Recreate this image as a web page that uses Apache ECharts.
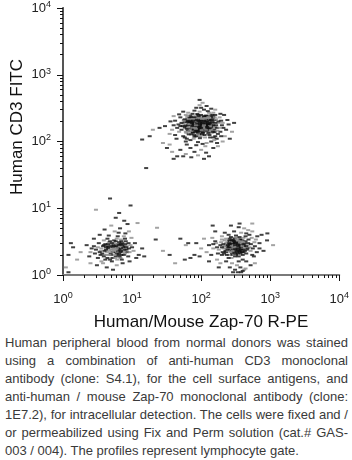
<!DOCTYPE html>
<html>
<head>
<meta charset="utf-8">
<script src="https://cdn.jsdelivr.net/npm/echarts@6/dist/echarts.min.js"></script>
<style>
    body { margin: 0; background: #fff; }
    #main { position: absolute; left: 0; top: 0; width: 352px; height: 330px; }
    .caption {
        position: absolute; left: 5px; top: 334px; width: 343px;
        font-family: "Liberation Sans", Arial, sans-serif; font-size: 13px;
        line-height: 18px; color: #3a3a3a;
    }
    .caption div { text-align: justify; text-align-last: justify; white-space: nowrap; }
    .caption div.last { text-align-last: left; }
</style>
</head>
<body>
<div id="main"></div>
<div class="caption">
    <div>Human peripheral blood from normal donors was stained</div>
    <div>using a combination of anti-human CD3 monoclonal</div>
    <div>antibody (clone: S4.1), for the cell surface antigens, and</div>
    <div>anti-human / mouse Zap-70 monoclonal antibody (clone:</div>
    <div>1E7.2), for intracellular detection. The cells were fixed and /</div>
    <div>or permeabilized using Fix and Perm solution (cat.# GAS-</div>
    <div class="last">003 / 004). The profiles represent lymphocyte gate.</div>
</div>
<script>
// decades shown on both log axes
const decades = [0, 1, 2, 3, 4];

// CD3+ T cells: [Zap-70 R-PE, CD3 FITC]
const cd3Pos = [
    [92,170],[78,185],[110,160],[65,150],[130,200],[88,140],[101,230],[72,210],[140,175],[95,120],
    [83,165],[118,190],[60,180],[105,145],[90,250],[125,130],[70,160],[99,195],[150,160],[80,125],
    [112,215],[86,178],[67,205],[134,152],[97,168],[75,138],[121,240],[93,188],[58,162],[108,172],
    [145,205],[82,196],[103,128],[69,175],[116,158],[91,222],[77,148],[128,182],[99,155],[63,225],
    [87,162],[106,198],[74,170],[138,165],[94,143],[81,212],[119,176],[66,190],[102,182],[89,132],
    [124,158],[76,194],[110,235],[96,150],[71,142],[133,218],[85,172],[115,140],[62,168],[100,208],
    [92,180],[79,158],[127,170],[104,160],[68,198],[142,188],[88,226],[113,150],[73,178],[98,136],
    [84,204],[120,196],[95,174],[64,145],[109,186],[131,142],[78,166],[93,158],[117,225],[86,190],
    [103,170],[70,220],[136,158],[97,202],[80,150],[112,178],[90,165],[123,210],[75,185],[106,134],
    [88,195],[146,172],[99,180],[67,160],[114,164],[83,140],[128,192],[94,216],[72,154],[107,205],
    [91,148],[119,168],[79,200],[100,190],[65,175],[139,200],[86,158],[108,150],[96,238],[74,166],
    [122,180],[89,175],[104,212],[70,188],[131,165],[93,130],[81,178],[115,202],[98,162],[63,198],
    [110,190],[85,150],[126,150],[94,196],[77,228],[102,156],[143,180],[87,168],[118,214],[69,150],
    [97,186],[82,172],[112,162],[91,205],[135,190],[75,160],[105,178],[90,140],[124,225],[79,192],
    [100,168],[66,212],[116,185],[95,160],[84,186],[129,176],[73,196],[108,220],[92,152],[120,154],
    [87,214],[101,176],[76,176],[137,148],[96,192],[111,170],[82,160],[71,232],[104,194],[89,184],
    [125,168],[98,208],[68,182],[114,176],[93,168],[80,218],[133,206],[86,144],[107,166],[95,182],
    [58,195],[150,195],[54,170],[155,150],[61,135],[148,225],[57,210],[142,135],[66,128],[138,240],
    [60,140],[72,128],[85,120],[98,118],[112,125],[128,135],[140,150],[150,175],[145,195],[132,225],
    [118,245],[100,250],[82,240],[68,230],[58,215],[55,185],[62,155],[76,135],[90,128],[105,138],
    [120,145],[135,170],[125,188],[110,205],[95,225],[80,230],[70,200],[65,165],[78,150],[92,145],
    [108,158],[122,165],[116,198],[102,218],[86,210],[74,188],[84,175],[96,165],[106,185],[118,150],
    [130,158],[140,210],[126,232],[112,240],[92,240],[76,218],[64,205],[59,172],[66,140],[80,118],
    [96,112],[114,115],[132,125],[148,140],[160,165],[156,210],[150,235],[136,255],[88,258],[70,245],
    [102,148],[94,202],[88,186],[110,175],[120,200],[100,160],[84,155],[76,205],[130,185],[114,220],
    [45,160],[52,190],[48,140],[40,175],[170,160],[180,190],[190,140],[200,175],[165,215],[175,130],
    [55,120],[60,250],[160,250],[50,230],[185,230],[42,205],[210,160],[38,150],[195,205],[168,110],
    [95,280],[80,290],[110,300],[120,95],[90,98],[70,105],[130,270],[100,320],[85,88],[115,85],
    [140,100],[60,100],[150,270],[75,260],[125,285],[65,270],[105,92],[135,115],[78,110],[160,120],
    [30,170],[35,130],[230,150],[250,180],[220,120],[44,110],[240,210],[205,100],[215,250],[48,255],
    [95,350],[120,340],[80,70],[100,75],[130,60],[70,80],[60,65],[110,55],[150,80],[175,85],
    [140,310],[85,320],[90,62],[72,58],[118,68],[160,300],[190,260],[55,280],[40,240],[36,200],
    [25,160],[20,150],[18,120],[300,190],[280,140],[260,110],[95,420],[105,380],[62,90],[170,95],
    [185,160],[178,200],[165,175],[172,145],[52,150],[47,180],[56,205],[42,125],[195,120],[205,190],
    [156,138],[161,190],[158,230],[152,115],[58,115],[63,240],[62,110],[145,250],[155,105],[50,170],
    [32,80],[38,70],[45,60],[40,55],[35,90],[14,107],[16,40],[28,95],[50,75],[55,60]
];

// CD3- / Zap-70 low cells
const cd3NegLow = [
    [5.2,2.4],[4.1,2.9],[6.5,2.1],[3.5,2.3],[7.8,2.7],[5.8,1.9],[4.6,3.1],[8.5,2.2],[3.2,1.8],[6.1,2.6],
    [5.0,2.0],[7.2,3.0],[4.3,2.2],[9.0,2.5],[3.8,2.7],[6.8,1.8],[5.5,3.3],[2.9,2.1],[7.5,2.3],[4.8,1.7],
    [6.3,2.9],[3.6,1.6],[8.1,3.2],[5.3,2.6],[4.0,2.0],[7.0,2.0],[2.6,2.5],[6.0,3.5],[4.5,2.5],[8.8,1.9],
    [5.7,2.2],[3.3,3.0],[7.4,2.6],[4.9,2.8],[6.6,2.4],[3.9,1.9],[9.5,2.8],[5.1,1.6],[4.2,2.6],[7.9,2.1],
    [5.9,2.7],[3.0,2.4],[6.9,3.4],[4.4,1.8],[8.3,2.4],[5.4,3.0],[3.7,2.1],[7.1,1.7],[4.7,2.3],[6.2,2.0],
    [2.4,1.9],[10.5,2.3],[2.2,2.8],[11.0,3.0],[1.8,2.2],[12.5,2.0],[2.8,3.5],[9.8,3.6],[3.4,4.0],[8.0,4.2],
    [5.6,4.5],[6.7,5.0],[4.0,4.8],[7.6,3.8],[4.6,3.9],[6.4,4.3],[5.0,5.5],[8.6,5.8],[3.1,1.4],[6.0,1.4],
    [4.3,1.3],[7.3,1.5],[2.5,1.5],[9.2,1.6],[5.3,1.2],[3.8,1.5],[11.5,1.8],[14.0,2.5],[1.6,1.7],[1.4,2.6],
    [7.7,6.5],[9.0,4.5],[5.8,7.2],[6.5,8.5],[3.0,9.5],[4.8,14.0],[9.5,11.0],[12.0,6.0],[1.2,1.1],[15.0,1.9],
    [5.5,2.5],[6.2,2.3],[4.9,2.1],[5.9,2.9],[7.0,2.5],[4.5,2.9],[6.7,2.7],[5.2,1.8],[8.0,2.9],[3.6,2.5],
    [6.0,2.1],[5.0,2.7],[7.4,2.2],[4.2,2.4],[6.5,3.1],[5.6,2.0],[3.9,2.8],[7.8,2.4],[4.7,2.0],[6.3,2.5],
    [5.3,2.2],[8.4,2.7],[6.9,2.9],[4.4,2.7],[5.8,2.4],[7.2,2.8],[3.5,2.0],[6.1,1.7],[5.1,3.0],[4.0,2.3],
    [5.5,2.3],[4.6,2.6],[6.4,2.8],[5.0,2.4],[7.6,2.0],[3.4,2.2],[6.0,2.5],[4.8,3.2],[8.2,2.6],[5.7,1.8],
    [4.1,1.7],[6.8,2.2],[3.9,3.3],[7.0,3.2],[5.4,2.8],[9.2,2.2],[2.8,2.7],[6.6,1.9],[5.1,2.2],[4.4,3.5],
    [7.9,3.5],[3.2,2.6],[6.2,3.8],[8.9,3.0],[2.5,2.2],[10,2.6],[5.8,3.2],[4.3,2.0],[6.9,2.3],[5.6,2.7],
    [1.1,1.3],[1.2,2.0],[1.3,3.0],[23,5.1],[22,3.4],[50,3.5],[60,2.8],[58,1.7],[35,2.0],[42,1.5],
    [70,1.8],[65,3.0],[28,2.3]
];

// CD3- / Zap-70 high cells
const cd3NegHigh = [
    [300,2.6],[250,2.9],[360,2.3],[210,2.5],[420,2.8],[280,2.1],[330,3.2],[190,2.8],[460,2.4],[270,3.4],
    [320,2.0],[230,2.2],[390,3.0],[290,2.7],[350,1.9],[240,3.1],[410,2.2],[200,2.0],[310,3.6],[260,2.4],
    [380,2.6],[220,3.3],[340,2.4],[480,3.0],[275,1.8],[305,2.9],[245,2.6],[430,2.5],[295,2.2],[365,3.4],
    [215,2.7],[325,2.5],[400,2.0],[255,2.0],[345,2.8],[285,3.0],[180,2.4],[440,3.2],[315,2.3],[235,2.9],
    [370,2.1],[265,2.7],[500,2.6],[310,1.9],[225,2.3],[385,2.9],[290,3.3],[355,2.6],[195,3.1],[415,2.7],
    [270,2.3],[335,3.0],[250,1.8],[450,2.1],[300,2.8],[205,2.2],[375,2.4],[280,2.5],[340,2.1],[240,2.7],
    [320,2.7],[395,3.3],[260,3.2],[470,2.8],[285,2.0],[350,3.1],[230,2.5],[405,2.4],[305,3.5],[265,2.9],
    [360,2.8],[215,2.1],[330,2.6],[425,3.0],[275,2.6],[245,2.3],[390,2.2],[310,2.4],[520,2.3],[295,3.1],
    [310,2.5],[270,2.7],[340,2.9],[290,2.4],[360,3.1],[250,2.6],[380,2.4],[230,3.0],[330,2.2],[300,3.3],
    [265,2.2],[410,2.9],[355,2.5],[285,2.3],[315,3.1],[240,2.4],[395,2.7],[275,3.0],[345,2.7],[220,2.7],
    [430,2.3],[200,2.6],[300,2.0],[260,3.5],[370,3.4],[325,3.6],[450,2.7],[235,2.0],[405,3.1],[280,2.9],
    [350,2.3],[295,2.6],[315,2.1],[255,3.3],[385,3.2],[210,2.9],[470,2.5],[330,3.4],[245,2.8],[365,2.2],
    [150,2.5],[160,3.2],[140,2.0],[170,1.7],[550,2.0],[600,2.7],[620,3.4],[580,1.9],[130,2.8],[120,2.2],
    [700,2.5],[650,3.8],[540,3.6],[500,4.0],[450,4.2],[380,4.3],[300,4.5],[250,4.0],[200,3.8],[220,4.3],
    [350,1.6],[280,1.5],[400,1.7],[230,1.6],[330,1.4],[450,1.6],[260,1.3],[190,1.5],[370,1.3],[310,1.2],
    [100,2.5],[95,1.9],[85,3.0],[110,3.5],[80,2.0],[900,3.3],[1100,2.8],[800,2.3],[750,4.0],[420,5.0],
    [350,5.2],[270,5.5],[480,4.7],[160,4.5],[130,1.6],[600,1.5],[520,1.4],[180,1.3],[420,1.2],[340,1.1],
    [290,1.1],[550,4.5],[640,2.2],[700,3.0],[145,3.6],[170,2.6],[175,2.1],[165,3.0],[525,2.9],[560,2.5],
    [410,3.6],[320,3.9],[270,3.7],[230,3.5],[360,3.7],[440,3.8],[200,3.4],[485,3.4],[150,2.9],[590,3.1],
    [147,5.5],[360,5.9],[550,5.9],[910,4.2],[400,1.15],[440,1.25],[380,1.1],
    [290,3.0],[270,3.1],[300,3.2],[320,3.0],[285,2.8],[260,2.9],[310,2.8],[340,3.3],[255,3.0],[280,3.3]
];

const FONT = '"Liberation Sans", Arial, Helvetica, sans-serif';
const minorTicks = [];
for (let d = 0; d < 4; d++) {
    for (let k = 2; k <= 9; k++) minorTicks.push(d + Math.log10(k));
}

function toLog(arr) {
    return arr.map((p, i) => ({
        value: [Math.log10(p[0]), Math.log10(p[1])],
        itemStyle: { color: i % 3 === 0 ? '#8c8c8c' : '#111' }
    }));
}

const powLabel = {
    formatter: (v) => '{a|10}{b|' + v + '}',
    color: '#222',
    rich: {
        a: { fontFamily: FONT, fontSize: 13, color: '#222' },
        b: { fontFamily: FONT, fontSize: 9, color: '#222', padding: [0, 0, 7, 0] }
    }
};

let myChart = echarts.init(document.getElementById('main'));
let option = {
    animation: false,
    grid: { left: 63, right: 12, top: 5, bottom: 55, containLabel: false },
    xAxis: [
        {
            type: 'value', position: 'bottom', min: 0, max: 4, interval: 1,
            axisLine: { lineStyle: { color: '#111', width: 1 } },
            axisTick: { length: 6, lineStyle: { color: '#111' } },
            axisLabel: Object.assign({ margin: 16 }, powLabel),
            splitLine: { show: false }
        },
        {
            type: 'value', position: 'bottom', min: 0, max: 4,
            axisLine: { show: false },
            axisTick: { length: 3, customValues: minorTicks, lineStyle: { color: '#111' } },
            axisLabel: { show: false },
            splitLine: { show: false }
        },
        {
            type: 'value', position: 'top', min: 0, max: 4,
            axisLine: { lineStyle: { color: '#7a7a7a', width: 2 } },
            axisTick: { show: false }, axisLabel: { show: false }, splitLine: { show: false }
        }
    ],
    yAxis: [
        {
            type: 'value', position: 'left', min: 0, max: 4, interval: 1,
            axisLine: { lineStyle: { color: '#111', width: 1 } },
            axisTick: { length: 6, lineStyle: { color: '#111' } },
            axisLabel: Object.assign({ margin: 12 }, powLabel),
            splitLine: { show: false }
        },
        {
            type: 'value', position: 'left', min: 0, max: 4,
            axisLine: { show: false },
            axisTick: { length: 3, customValues: minorTicks, lineStyle: { color: '#111' } },
            axisLabel: { show: false },
            splitLine: { show: false }
        },
        {
            type: 'value', position: 'right', min: 0, max: 4,
            axisLine: { lineStyle: { color: '#555', width: 2 } },
            axisTick: { show: false }, axisLabel: { show: false }, splitLine: { show: false }
        }
    ],
    graphic: [
        {
            type: 'text', x: 201, y: 322,
            style: {
                text: 'Human/Mouse Zap-70 R-PE', fill: '#111', font: '17px ' + FONT,
                textAlign: 'center', textVerticalAlign: 'middle'
            }
        },
        {
            type: 'text', x: 17, y: 127, rotation: Math.PI / 2,
            style: {
                text: 'Human CD3 FITC', fill: '#111', font: '17px ' + FONT,
                textAlign: 'center', textVerticalAlign: 'middle'
            }
        }
    ],
    series: [
        { type: 'scatter', symbol: 'rect', symbolSize: [4, 2], data: toLog(cd3NegLow) },
        { type: 'scatter', symbol: 'rect', symbolSize: [4, 2], data: toLog(cd3NegHigh) },
        { type: 'scatter', symbol: 'rect', symbolSize: [4, 2], data: toLog(cd3Pos) }
    ]
};
myChart.setOption(option);
</script>
</body>
</html>
